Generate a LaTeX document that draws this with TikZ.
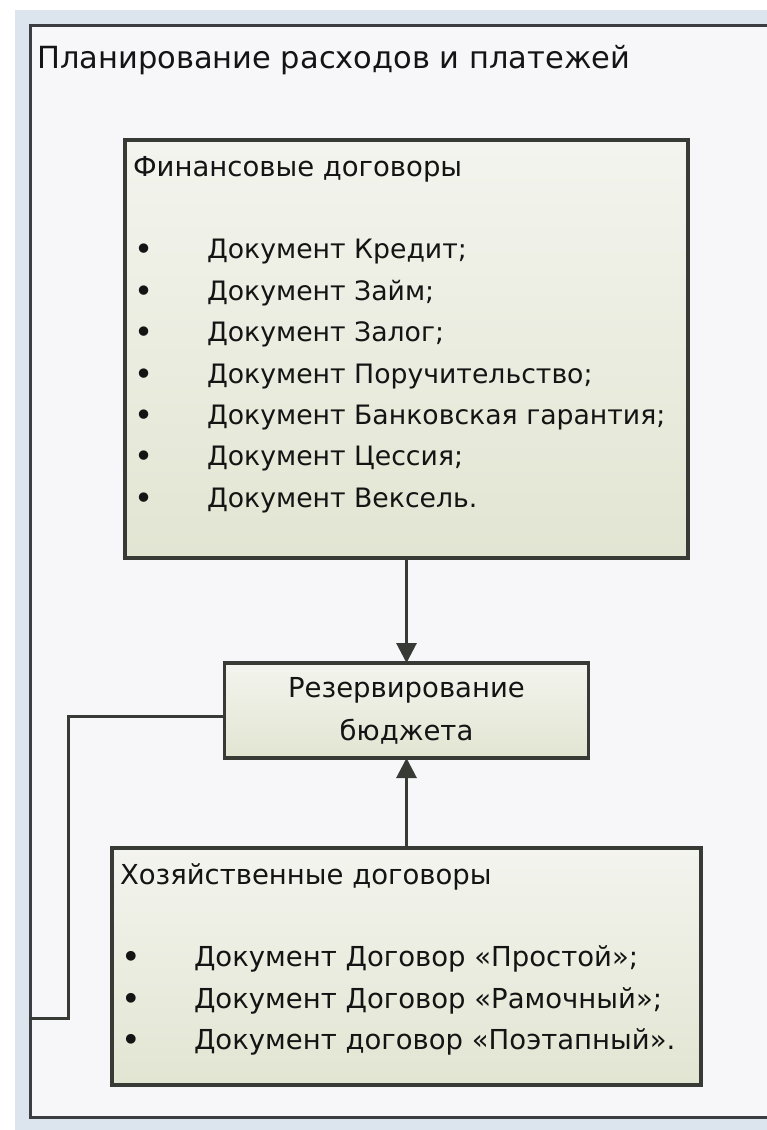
\documentclass[tikz,border=0pt]{standalone}
\usepackage{fontspec}
\setmainfont{DejaVu Sans}
\usetikzlibrary{positioning,arrows.meta}

\definecolor{bandblue}{HTML}{DCE5EE}
\definecolor{framefill}{HTML}{F7F7F9}
\definecolor{framegray}{HTML}{3A3E42}
\definecolor{boxtop}{HTML}{F3F4EE}
\definecolor{boxbottom}{HTML}{E2E5D2}
\definecolor{boxline}{HTML}{383B35}
\definecolor{inktext}{HTML}{141414}

% bullet with indent, and a box body aligned to the top
\newcommand{\bul}{\makebox[74pt][l]{\hspace{2pt}\textbf{•}}}
\newcommand{\boxbody}[3]{\parbox[c][#1][t]{#2}{#3}}

\begin{document}
\begin{tikzpicture}[
    x=1pt, y=-1pt,
    node distance=100pt,
    box/.style={rectangle, draw=boxline, line width=3.5pt, top color=boxtop, bottom color=boxbottom, outer sep=0pt, text=inktext},
    listbox/.style={box, inner xsep=8pt, inner ysep=0pt, font=\fontsize{26.7}{41.4}\selectfont},
    midbox/.style={box, minimum width=364pt, minimum height=95pt, align=center, font=\fontsize{27.5}{43}\selectfont},
    arrow/.style={line width=3pt, draw=boxline, -{Triangle[width=20pt,length=20pt]}}
]
    \useasboundingbox (0,0) rectangle (767,1130);
    \fill[white] (0,0) rectangle (767,1130);

    % Outer frame
    \fill[bandblue] (15,10) rectangle (800,1140);
    \fill[framefill] (30,25) rectangle (800,1117);
    \draw[framegray, line width=3pt] (800,25) -- (30,25) -- (30,1117) -- (800,1117);
    \node[anchor=base west, inner sep=0pt, text=inktext, font=\fontsize{30.5}{36}\selectfont] (title) at (37,68) {Планирование расходов и платежей};

    % Financial contracts
    \node[listbox, anchor=north west] (fin) at (125,140) {\boxbody{418pt}{547pt}{%
        \rule{0pt}{36pt}{\fontsize{27.5}{41.4}\selectfont Финансовые договоры}\\[41.4pt]
        \bul Документ Кредит;\\
        \bul Документ Займ;\\
        \bul Документ Залог;\\
        \bul Документ Поручительство;\\
        \bul Документ Банковская гарантия;\\
        \bul Документ Цессия;\\
        \bul Документ Вексель.}};

    % Budget reservation
    \node[midbox, below=105pt of fin] (rez) {Резервирование\\бюджета};

    % Business contracts
    \node[listbox, below=90pt of rez, font=\fontsize{27.5}{41.4}\selectfont] (xoz) {\boxbody{237pt}{573pt}{%
        \rule{0pt}{36pt}Хозяйственные договоры\\[41.4pt]
        \bul Документ Договор «Простой»;\\
        \bul Документ Договор «Рамочный»;\\
        \bul Документ договор «Поэтапный».}};

    % Arrows
    \draw[arrow] (fin) -- (rez);
    \draw[arrow] (xoz) -- (rez);

    % Line to the frame
    \coordinate (turn) at (68,1018);
    \coordinate (frameend) at (30,1018);
    \draw[boxline, line width=3pt] ([yshift=-6pt]rez.west) -| (turn) -- (frameend);
\end{tikzpicture}
\end{document}
